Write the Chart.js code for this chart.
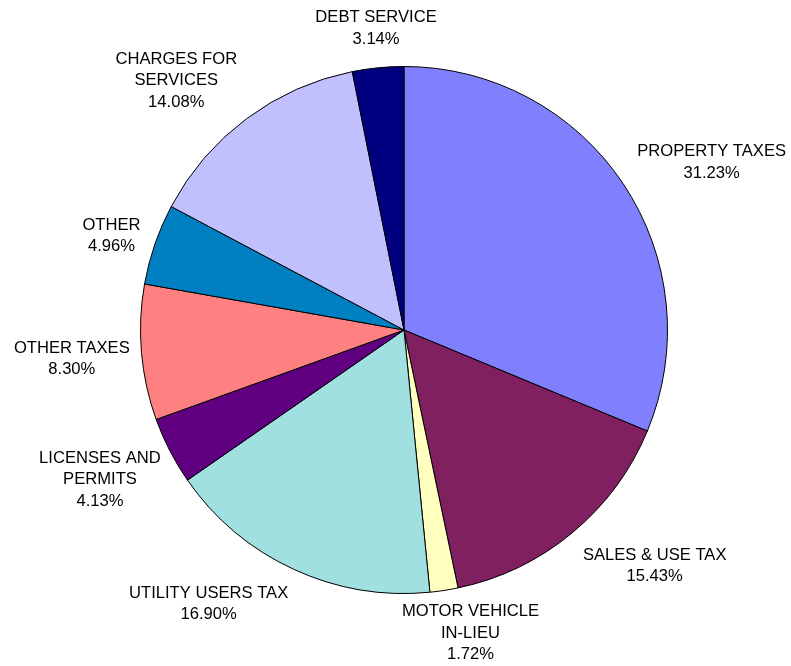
<!DOCTYPE html>
<html>
<head>
<meta charset="utf-8">
<script src="https://cdn.jsdelivr.net/npm/chart.js@4/dist/chart.umd.min.js"></script>
<style>
  html, body { margin: 0; padding: 0; background: #fff; }
  #wrap { width: 791px; height: 666px; position: relative; }
</style>
</head>
<body>
<div id="wrap"><canvas id="pie" width="791" height="666"></canvas></div>
<script>
// Revenue shares
const categories = [
  ['PROPERTY TAXES'],
  ['SALES & USE TAX'],
  ['MOTOR VEHICLE', 'IN-LIEU'],
  ['UTILITY USERS TAX'],
  ['LICENSES AND', 'PERMITS'],
  ['OTHER TAXES'],
  ['OTHER'],
  ['CHARGES FOR', 'SERVICES'],
  ['DEBT SERVICE']
];
const shares = [31.23, 15.43, 1.72, 16.90, 4.13, 8.30, 4.96, 14.08, 3.14];
const colors = ['#8080FF', '#802060', '#FFFFC0', '#A0E0E0', '#600080', '#FF8080', '#0080C0', '#C0C0FF', '#000080'];

const FONT = '16.6px "Liberation Sans", Arial, sans-serif';
const LINE_H = 21.5;
const GAP = 20;
// hand-placed label tweaks (px), like dragged labels in the original
const labelNudge = [[10, 2], [24, 1], [13, -9], [-43, -3], [2, 5], [8, 3], [3, 5], [-22, 4], [6, 2]];

// outside labels, box edge touches a point just beyond the rim
const outsideLabels = {
  id: 'outsideLabels',
  afterDatasetsDraw(chart) {
    const ctx = chart.ctx;
    const meta = chart.getDatasetMeta(0);
    ctx.save();
    ctx.font = FONT;
    ctx.fillStyle = '#000';
    ctx.textAlign = 'center';
    ctx.textBaseline = 'middle';
    meta.data.forEach((arc, i) => {
      const lines = categories[i].concat([shares[i].toFixed(2) + '%']);
      const mid = (arc.startAngle + arc.endAngle) / 2;
      const ux = Math.cos(mid), uy = Math.sin(mid);
      const w = Math.max(...lines.map(l => ctx.measureText(l).width));
      const h = lines.length * LINE_H;
      const ax = arc.x + (arc.outerRadius + GAP) * ux;
      const ay = arc.y + (arc.outerRadius + GAP) * uy;
      const cx = ax + ux * w / 2 + labelNudge[i][0];
      const cy = ay + uy * h / 2 + labelNudge[i][1];
      lines.forEach((l, k) => {
        ctx.fillText(l, cx, cy - h / 2 + LINE_H * (k + 0.5));
      });
    });
    ctx.restore();
  }
};

new Chart(document.getElementById('pie').getContext('2d'), {
  type: 'pie',
  data: {
    labels: categories.map(c => c.join(' ')),
    datasets: [{
      data: shares,
      backgroundColor: colors,
      borderColor: '#000',
      borderWidth: 1
    }]
  },
  options: {
    responsive: false,
    animation: false,
    layout: { padding: { left: 140, right: 123, top: 66, bottom: 72 } },
    plugins: { legend: { display: false }, tooltip: { enabled: false } }
  },
  plugins: [outsideLabels]
});
</script>
</body>
</html>
